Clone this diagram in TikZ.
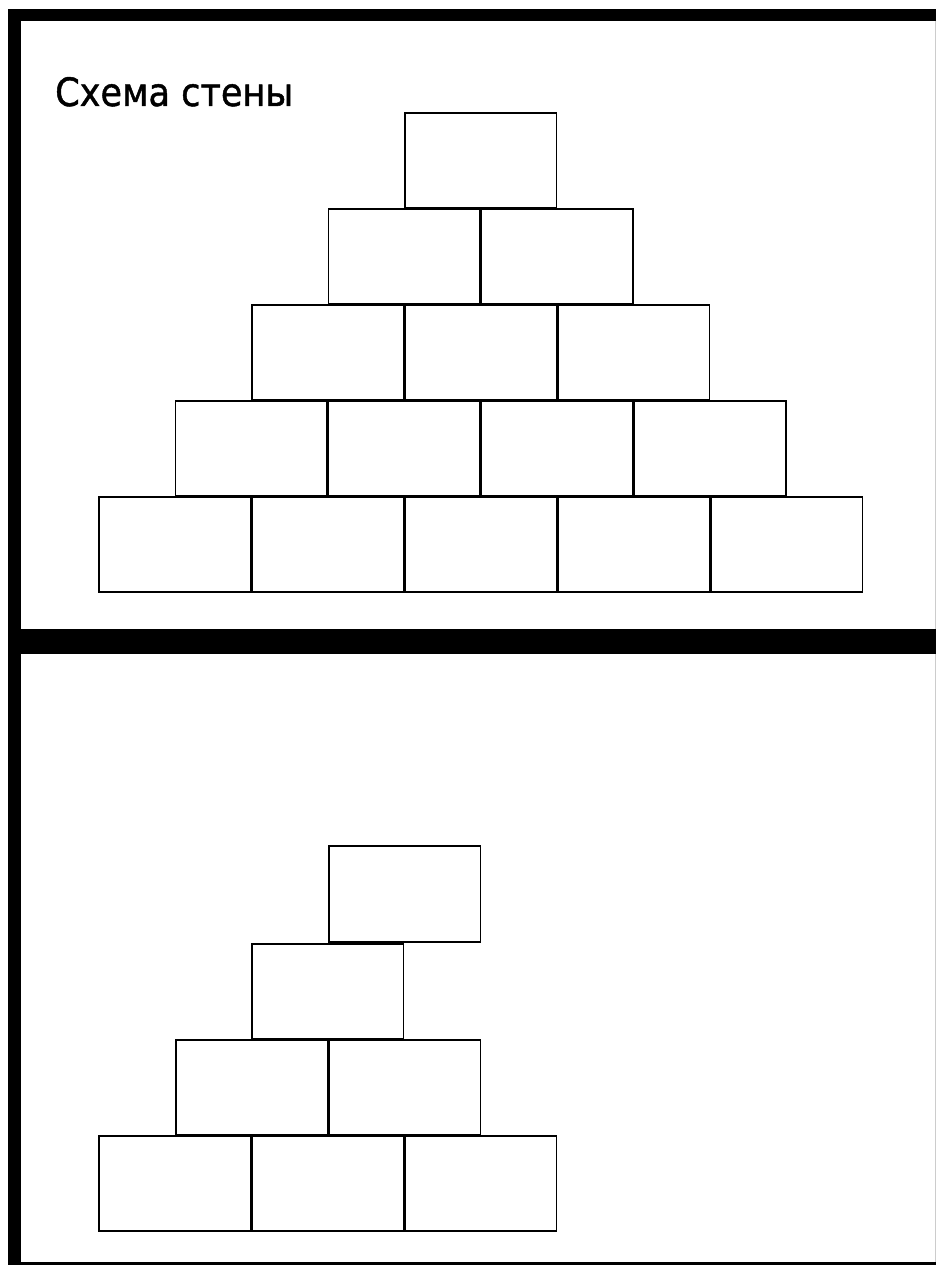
\documentclass[tikz,border=0pt]{standalone}
\usepackage{fontspec}
\setmainfont{DejaVu Sans}
\newfontfamily\titlefont[FakeBold=1.2]{DejaVu Sans}
\usepackage{graphicx}
\begin{document}
\begin{tikzpicture}[x=1pt,y=-1pt,
  brick/.style={draw=black,line width=1.4pt,fill=white,minimum width=151.5pt,minimum height=95pt,inner sep=0pt,outer sep=0pt,anchor=north west},
  bar/.style={fill=black,draw=none}]
\useasboundingbox (0,0) rectangle (936,1265);
\fill[white] (0,0) rectangle (936,1265);
% frame
\fill[bar] (8,9) rectangle (936,21);
\fill[bar] (8,9) rectangle (21,1265);
\fill[bar] (8,629) rectangle (936,654);
\fill[bar] (8,1262) rectangle (936,1265);
\draw[gray!40,line width=0.6pt] (935,21) -- (935,629);
\draw[gray!40,line width=0.6pt] (935,654) -- (935,1262);
% title
\node[anchor=base west,inner sep=0pt] (title) at (55,106) {\resizebox{238pt}{29pt}{\titlefont Схема стены}};
% top pyramid
\foreach \r in {1,...,5}{
  \foreach \c in {1,...,\r}{
    \pgfmathsetmacro{\xx}{405-76.5*(\r-1)+153*(\c-1)}
    \pgfmathsetmacro{\yy}{113+96*(\r-1)}
    \node[brick] (a\r\c) at (\xx,\yy) {};
  }
}
% bottom pyramid
\node[brick,minimum height=96pt] (b11) at (329,846) {};
\node[brick] (b21) at (252,944) {};
\node[brick] (b31) at (176,1040) {};
\node[brick] (b32) at (329,1040) {};
\node[brick] (b41) at (99,1136) {};
\node[brick] (b42) at (252,1136) {};
\node[brick] (b43) at (405,1136) {};
\end{tikzpicture}
\end{document}
